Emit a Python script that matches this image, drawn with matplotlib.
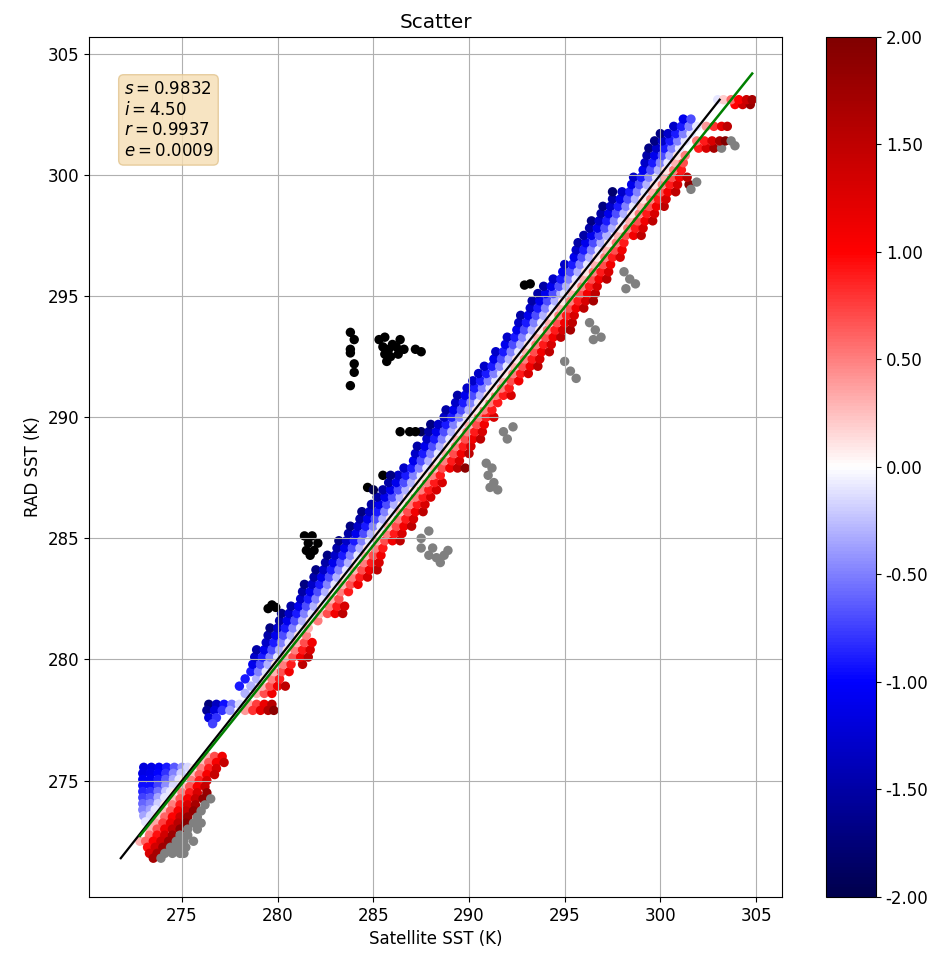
import numpy as np
import matplotlib
matplotlib.use('Agg')
import matplotlib.pyplot as plt

plt.rcParams['font.family'] = ['DejaVu Sans']
plt.rcParams['font.size'] = 12

# statistics shown in the box
slope, intercept, r_val, err = 0.9832, 4.50, 0.9937, 0.0009

x_ticks = [275, 280, 285, 290, 295, 300, 305]
y_ticks = [275, 280, 285, 290, 295, 300, 305]
cbar_ticks = [-2.0, -1.5, -1.0, -0.5, 0.0, 0.5, 1.0, 1.5, 2.0]

# Bottom-left blue block: rows of (RAD SST, satellite SSTs, colour values)
block_rows = [
    (275.55, [273.0, 273.4, 273.8, 274.2, 274.6, 275.0, 275.3], [-1.2, -1.15, -1.05, -0.9, -0.65, -0.4, -0.15]),
    (275.30, [272.95, 273.35, 273.75, 274.15, 274.55, 274.95], [-1.15, -1.1, -1.0, -0.8, -0.5, -0.2]),
    (275.05, [272.95, 273.35, 273.75, 274.15, 274.55, 274.85], [-1.05, -1.05, -0.9, -0.65, -0.35, -0.1]),
    (274.80, [272.95, 273.35, 273.75, 274.15, 274.55], [-0.95, -0.95, -0.75, -0.45, -0.15]),
    (274.55, [272.95, 273.35, 273.75, 274.15, 274.4], [-0.85, -0.8, -0.55, -0.25, -0.1]),
    (274.30, [272.95, 273.35, 273.75, 274.1], [-0.75, -0.65, -0.35, -0.1]),
    (274.05, [272.95, 273.35, 273.75], [-0.6, -0.5, -0.2]),
    (273.80, [272.95, 273.35, 273.6], [-0.5, -0.35, -0.1]),
    (273.55, [273.0, 273.35], [-0.35, -0.15]),
    (273.30, [273.1], [-0.1]),
]

# Other points as rows: (RAD SST, satellite SSTs); colour = satellite - RAD
bottom_left_rows = [
    (276.00, [276.3, 276.7, 277.1]),
    (275.75, [276.0, 276.4, 276.8, 277.2]),
    (275.50, [275.6, 276.0, 276.4, 276.8]),
    (275.25, [275.5, 275.9, 276.3, 276.7]),
    (275.00, [275.1, 275.5, 275.9, 276.3]),
    (274.75, [275.0, 275.4, 275.8, 276.2]),
    (274.50, [274.6, 275.0, 275.4, 275.8, 276.3]),
    (274.25, [274.5, 274.9, 275.3, 275.7, 276.1, 276.5]),
    (274.00, [274.1, 274.5, 274.9, 275.3, 275.7, 276.2]),
    (273.75, [274.0, 274.4, 274.8, 275.2, 275.6, 276.0]),
    (273.50, [273.7, 274.1, 274.5, 274.9, 275.3, 275.8]),
    (273.25, [273.6, 274.0, 274.4, 274.8, 275.2, 275.6, 276.0]),
    (273.00, [273.3, 273.7, 274.1, 274.5, 274.9, 275.3, 275.8]),
    (272.75, [273.3, 273.7, 274.1, 274.5, 274.9, 275.3]),
    (272.50, [272.8, 273.1, 273.5, 273.9, 274.3, 274.7, 275.1, 275.6]),
    (272.25, [273.2, 273.6, 274.0, 274.4, 274.8, 275.2]),
    (272.00, [273.3, 273.7, 274.1, 274.5, 274.9, 275.1]),
    (271.80, [273.5, 273.9]),
]

streak_rows = [
    (278.15, [276.4, 276.8, 277.2, 277.6, 278.0, 278.5, 278.9, 279.3, 279.7]),
    (277.90, [276.3, 276.7, 277.1, 277.5, 278.3, 278.7, 279.1, 279.5, 279.8]),
    (277.60, [276.4, 276.8]),
    (277.35, [276.6]),
]

band_low_rows = [
    (278.6, [278.3, 278.9, 279.3, 279.7]),
    (278.9, [278.0, 278.6, 279.2, 279.6, 280.0, 280.4]),
    (279.2, [278.3, 278.9, 279.3, 279.7, 280.1]),
    (279.5, [278.6, 279.0, 279.4, 279.8, 280.2, 280.6]),
    (279.8, [278.7, 279.1, 279.5, 279.9, 280.3, 280.7, 281.3]),
    (280.1, [278.8, 279.2, 279.6, 280.0, 280.4, 280.8, 281.2, 281.6]),
    (280.4, [278.9, 279.3, 279.7, 280.1, 280.5, 280.9, 281.3, 281.7]),
    (280.7, [279.4, 279.8, 280.2, 280.6, 281.0, 281.4, 281.8]),
    (281.0, [279.5, 279.9, 280.3, 280.7, 281.1, 281.5]),
    (281.3, [279.6, 280.0, 280.4, 280.8, 281.2, 281.6]),
    (281.6, [280.1, 280.5, 280.9, 281.3, 281.7, 282.1]),
    (281.9, [280.2, 280.6, 281.0, 281.4, 281.8, 282.2, 282.6, 283.0, 283.4]),
    (282.2, [280.7, 281.1, 281.5, 281.9, 282.3, 282.7, 283.1, 283.5]),
    (282.5, [281.2, 281.6, 282.0, 282.4, 282.8, 283.2]),
    (282.8, [281.3, 281.7, 282.1, 282.5, 282.9, 283.3, 283.7]),
    (283.1, [281.4, 281.8, 282.2, 282.6, 283.0, 283.4, 283.8, 284.2]),
    (283.4, [281.9, 282.3, 282.7, 283.1, 283.5, 283.9, 284.3, 284.7]),
    (283.7, [282.0, 282.4, 282.8, 283.2, 283.6, 284.0, 284.4, 284.8, 285.2]),
    (284.0, [282.5, 282.9, 283.3, 283.7, 284.1, 284.5, 284.9, 285.3]),
    (284.3, [282.6, 283.0, 283.4, 283.8, 284.2, 284.6, 285.0, 285.4]),
    (284.6, [283.1, 283.5, 283.9, 284.3, 284.7, 285.1, 285.5]),
    (284.9, [283.2, 283.6, 284.0, 284.4, 284.8, 285.2, 285.6, 286.0, 286.4]),
    (285.2, [283.7, 284.1, 284.5, 284.9, 285.3, 285.7, 286.1, 286.5]),
]

band_mid_rows = [
    (285.5, [283.8, 284.2, 284.6, 285.0, 285.4, 285.8, 286.2, 286.6, 287.0]),
    (285.8, [284.3, 284.7, 285.1, 285.5, 285.9, 286.3, 286.7, 287.1]),
    (286.1, [284.4, 284.8, 285.2, 285.6, 286.0, 286.4, 286.8, 287.2, 287.6]),
    (286.4, [284.9, 285.3, 285.7, 286.1, 286.5, 286.9, 287.3, 287.7]),
    (286.7, [285.2, 285.6, 286.0, 286.4, 286.8, 287.2, 287.6, 288.0]),
    (287.0, [285.5, 285.9, 286.3, 286.7, 287.1, 287.5, 287.9, 288.3]),
    (287.3, [285.8, 286.2, 286.6, 287.0, 287.4, 287.8, 288.2, 288.6]),
    (287.6, [286.3, 286.7, 287.1, 287.5, 287.7, 288.1, 288.5]),
    (287.9, [286.6, 287.0, 287.4, 287.8, 288.2, 288.6, 289.0, 289.4, 289.8]),
    (288.2, [287.1, 287.5, 287.9, 288.3, 288.7, 289.1, 289.5]),
    (288.5, [287.2, 287.6, 288.0, 288.4, 288.8, 289.2, 289.6, 290.0]),
    (288.8, [287.3, 287.7, 288.1, 288.5, 288.9, 289.3, 289.7, 290.1]),
    (289.1, [287.8, 288.2, 288.6, 289.0, 289.4, 289.8, 290.2, 290.6]),
    (289.4, [287.5, 287.9, 288.3, 288.7, 289.1, 289.5, 289.9, 290.3, 290.7]),
    (289.7, [288.0, 288.4, 288.8, 289.2, 289.6, 290.0, 290.4, 290.8]),
    (290.0, [288.7, 289.1, 289.5, 289.9, 290.1, 290.5, 290.9, 291.3]),
    (290.3, [288.8, 289.2, 289.6, 290.0, 290.4, 290.8, 291.2]),
    (290.6, [289.3, 289.7, 290.1, 290.5, 290.7, 291.1, 291.5]),
    (290.9, [289.4, 289.8, 290.2, 290.6, 291.0, 291.4, 291.8, 292.2]),
    (291.2, [289.9, 290.3, 290.7, 291.1, 291.3, 291.7, 292.1]),
    (291.5, [290.2, 290.6, 291.0, 291.4, 291.8, 292.2, 292.6]),
    (291.8, [290.5, 290.9, 291.3, 291.7, 291.9, 292.3, 292.7, 293.1]),
    (292.1, [290.8, 291.2, 291.6, 292.0, 292.4, 292.8, 293.2, 293.6]),
    (292.4, [291.3, 291.7, 292.1, 292.5, 292.9, 293.3, 293.7]),
    (292.7, [291.4, 291.8, 292.2, 292.6, 293.0, 293.4, 293.8, 294.2]),
    (293.0, [291.9, 292.3, 292.7, 293.1, 293.5, 293.9, 294.3]),
]

band_high_rows = [
    (293.3, [292.0, 292.4, 292.8, 293.2, 293.6, 294.0, 294.4, 294.8]),
    (293.6, [292.5, 292.9, 293.3, 293.7, 294.1, 294.5, 294.9, 295.3]),
    (293.9, [292.6, 293.0, 293.4, 293.8, 294.2, 294.6, 295.0, 295.4]),
    (294.2, [292.7, 293.1, 293.5, 293.9, 294.3, 294.7, 295.1, 295.5]),
    (294.5, [293.2, 293.6, 294.0, 294.4, 294.8, 295.2, 295.6, 296.0]),
    (294.8, [293.3, 293.7, 294.1, 294.5, 294.9, 295.3, 295.7, 296.1, 296.5]),
    (295.1, [293.6, 294.0, 294.4, 294.8, 295.0, 295.4, 295.8, 296.2, 296.6]),
    (295.4, [293.9, 294.3, 294.7, 295.1, 295.5, 295.9, 296.3, 296.7]),
    (295.7, [294.4, 294.8, 295.2, 295.6, 296.0, 296.4, 296.8, 297.2]),
    (296.0, [294.9, 295.3, 295.7, 296.1, 296.5, 296.9, 297.3]),
    (296.3, [295.0, 295.4, 295.8, 296.2, 296.6, 297.0, 297.4]),
    (296.6, [295.5, 295.9, 296.3, 296.7, 297.1, 297.5, 297.9]),
    (296.9, [295.6, 296.0, 296.4, 296.8, 297.2, 297.6, 298.0]),
    (297.2, [295.7, 296.1, 296.5, 296.9, 297.3, 297.7, 298.1]),
    (297.5, [296.0, 296.4, 296.8, 297.2, 297.8, 298.2, 298.6, 299.0]),
    (297.8, [296.3, 296.7, 297.1, 297.5, 297.9, 298.3, 298.7, 299.1]),
    (298.1, [296.4, 296.8, 297.2, 297.6, 298.0, 298.4, 298.8, 299.2, 299.6]),
    (298.4, [296.9, 297.3, 297.7, 298.1, 298.5, 298.9, 299.3, 299.7]),
    (298.7, [297.0, 297.4, 297.8, 298.2, 298.6, 299.0, 299.4, 299.8, 300.2]),
    (299.0, [297.5, 297.9, 298.3, 298.7, 299.1, 299.5, 299.9, 300.3]),
    (299.3, [297.5, 298.0, 298.4, 298.8, 299.2, 299.6, 300.0, 300.4, 300.8]),
    (299.6, [298.5, 298.9, 299.3, 299.7, 300.1, 300.5, 300.9, 301.5]),
    (299.9, [298.6, 299.0, 299.4, 299.8, 300.2, 300.6, 301.0, 301.4]),
    (300.2, [299.1, 299.5, 299.9, 300.3, 300.7, 301.1]),
    (300.5, [299.2, 299.6, 300.0, 300.4, 300.8, 301.2]),
    (300.8, [299.3, 299.7, 300.1, 300.5, 300.9, 301.3]),
    (301.1, [299.4, 299.8, 300.2, 300.6, 301.0, 302.0, 302.4, 302.8, 303.2]),
    (301.4, [299.7, 300.1, 300.5, 300.9, 301.3, 301.9, 302.3, 302.7, 303.1, 303.4]),
    (301.7, [300.0, 300.4, 300.8, 301.2, 301.6]),
    (302.0, [300.7, 301.1, 301.5, 301.9, 302.4, 302.8, 303.2, 303.5]),
    (302.3, [301.2, 301.6]),
    (302.9, [303.9, 304.3, 304.7]),
    (303.1, [303.0, 303.3, 303.7, 304.1, 304.5, 304.8]),
]

# points far above the 1:1 line (satellite - RAD < -2)
far_above_x = [279.5, 279.9, 279.7, 281.4, 281.8, 281.6, 281.5, 281.9, 281.7, 282.1,
               284.7, 285.0, 285.5, 285.9, 286.4, 286.9, 287.2,
               283.8, 284.0, 283.8, 283.8, 284.0, 284.0, 283.8,
               285.3, 285.6, 285.5, 285.8, 286.0, 285.6, 285.9, 285.7, 286.2, 286.4, 286.6, 286.3,
               287.2, 287.5, 292.9, 293.2]
far_above_y = [282.1, 282.15, 282.25, 285.1, 285.1, 284.8, 284.5, 284.5, 284.3, 284.8,
               287.1, 287.0, 287.6, 287.6, 289.4, 289.4, 289.4,
               293.5, 293.2, 292.8, 292.65, 292.2, 291.85, 291.3,
               293.2, 293.3, 292.9, 292.8, 293.0, 292.6, 292.5, 292.3, 292.9, 293.2, 292.8, 292.6,
               292.8, 292.7, 295.45, 295.5]

# points far below the 1:1 line (satellite - RAD > 2)
far_below_x = [287.5, 287.9, 287.5, 287.9, 288.3, 288.7, 288.9, 288.1, 288.5,
               290.9, 291.2, 291.0, 291.3, 291.5, 291.1,
               291.8, 292.0, 292.3, 295.0, 295.3, 295.6,
               296.3, 296.6, 296.9, 296.5, 298.1, 298.4, 298.7, 298.2,
               301.6, 301.9, 303.7, 303.9]
far_below_y = [285.0, 285.3, 284.6, 284.3, 284.2, 284.3, 284.5, 284.6, 284.0,
               288.1, 287.9, 287.6, 287.3, 287.0, 287.1,
               289.4, 289.1, 289.6, 292.3, 291.9, 291.6,
               293.9, 293.6, 293.3, 293.2, 296.0, 295.7, 295.5, 295.3,
               299.4, 299.7, 301.4, 301.2]

# assemble
sat_list, rad_list, col_list = [], [], []
for yv, xs, cs in block_rows:
    sat_list += xs
    rad_list += [yv] * len(xs)
    col_list += cs
rest_x, rest_y = [], []
for rows in (bottom_left_rows, streak_rows, band_low_rows, band_mid_rows, band_high_rows):
    for yv, xs in rows:
        rest_x += xs
        rest_y += [yv] * len(xs)
rest_x += far_below_x + far_above_x
rest_y += far_below_y + far_above_y
rest_x = np.array(rest_x)
rest_y = np.array(rest_y)

sat = np.concatenate([np.array(sat_list), rest_x])
rad = np.concatenate([np.array(rad_list), rest_y])
col = np.concatenate([np.array(col_list), rest_x - rest_y])

cmap = plt.get_cmap('seismic').with_extremes(under='black', over='gray')

fig = plt.figure(figsize=(9.33, 9.58), dpi=100)
ax = fig.add_axes([0.0954, 0.0637, 0.7428, 0.898])
sc = ax.scatter(sat, rad, c=col, cmap=cmap, vmin=-2, vmax=2, s=46, linewidths=0)

# 1:1 line over the RAD range, regression line over the satellite range
one_x = np.array([rad.min(), rad.max()])
ax.plot(one_x, one_x, color='black', lw=1.6)
fit_x = np.array([sat.min(), sat.max()])
ax.plot(fit_x, slope * fit_x + intercept, color='green', lw=1.8)

ax.set_xlim(270.14, 306.36)
ax.set_ylim(270.2, 305.7)
ax.set_xticks(x_ticks)
ax.set_yticks(y_ticks)
ax.grid(True)
ax.set_xlabel('Satellite SST (K)')
ax.set_ylabel('RAD SST (K)')
ax.set_title('Scatter')

textstr = '\n'.join([r'$s=%.4f$' % slope, r'$i=%.2f$' % intercept,
                     r'$r=%.4f$' % r_val, r'$e=%.4f$' % err])
ax.text(0.05, 0.95, textstr, transform=ax.transAxes, fontsize=12, va='top',
        bbox=dict(boxstyle='round', facecolor='wheat', edgecolor='#e2c48e', alpha=0.8))

cax = fig.add_axes([0.8853, 0.0637, 0.0536, 0.898])
cb = fig.colorbar(sc, cax=cax, ticks=cbar_ticks, format='%.2f')

fig.savefig('out.png', dpi=100)
